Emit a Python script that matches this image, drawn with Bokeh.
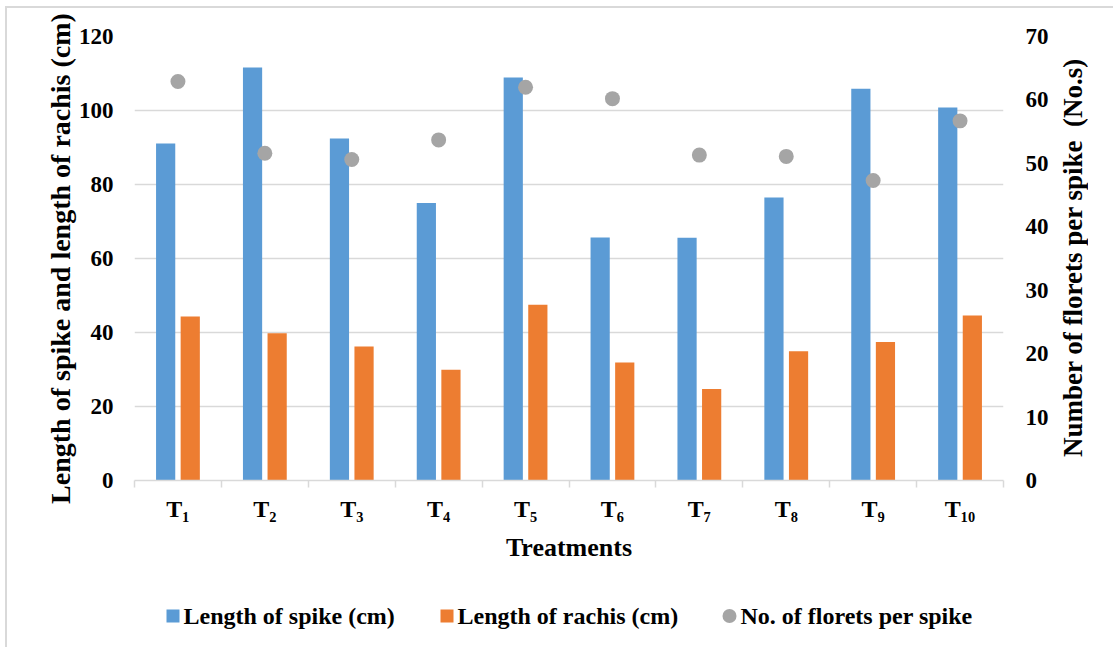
from bokeh.plotting import figure
from bokeh.models import Range1d, LinearAxis, FixedTicker, ColumnDataSource, Div
from bokeh.layouts import column, row
from bokeh.transform import dodge
from bokeh.embed import file_html
from bokeh.resources import INLINE
from bokeh.core.properties import value

# ---- data -------------------------------------------------------------
treatments = ["T\u2081", "T\u2082", "T\u2083", "T\u2084", "T\u2085",
              "T\u2086", "T\u2087", "T\u2088", "T\u2089", "T\u2081\u2080"]
spike_length = [91.1, 111.6, 92.4, 75.0, 108.9, 65.7, 65.6, 76.5, 105.9, 100.8]
rachis_length = [44.3, 39.8, 36.2, 29.9, 47.5, 31.9, 24.7, 34.9, 37.4, 44.6]
florets_per_spike = [62.9, 51.6, 50.6, 53.7, 62.0, 60.2, 51.3, 51.1, 47.3, 56.7]

left_ticks = [0, 20, 40, 60, 80, 100, 120]
right_ticks = [0, 10, 20, 30, 40, 50, 60, 70]

left_title = "Length of spike and length of rachis (cm)"
right_title = "Number of florets per spike  (No.s)"
x_title = "Treatments"
series_names = ["Length of spike (cm)", "Length of rachis (cm)", "No. of florets per spike"]
series_colors = ["#5b9bd5", "#ed7d31", "#a5a5a5"]

# ---- styling ----------------------------------------------------------
FONT = "'Liberation Serif', 'Times New Roman', serif"
GRID = "#d9d9d9"

n = len(treatments)
centers = [i + 0.5 for i in range(n)]
src = ColumnDataSource(dict(x=centers, spike=spike_length,
                            rachis=rachis_length, florets=florets_per_spike))

p = figure(width=1048, height=577,
           x_range=Range1d(0, n), y_range=Range1d(left_ticks[0], left_ticks[-1]),
           output_backend="svg", toolbar_location=None,
           min_border_left=127, min_border_right=52,
           min_border_top=28, min_border_bottom=105,
           outline_line_color=None,
           background_fill_color="white", border_fill_color="white")
p.extra_y_ranges = {"florets": Range1d(right_ticks[0], right_ticks[-1])}

# bars and dots
p.vbar(x=dodge("x", -0.1415, range=p.x_range), top="spike", width=0.221,
       fill_color=series_colors[0], line_color=None, source=src)
p.vbar(x=dodge("x", 0.1415, range=p.x_range), top="rachis", width=0.221,
       fill_color=series_colors[1], line_color=None, source=src)
p.scatter(x="x", y="florets", size=15, marker="circle",
          fill_color=series_colors[2], line_color=None,
          y_range_name="florets", source=src)

# grid
p.xgrid.visible = False
p.ygrid.grid_line_color = GRID
p.ygrid.grid_line_width = 1.5

# x axis: labels at category centres, tick marks between categories
xa = p.xaxis[0]
xa.ticker = FixedTicker(ticks=centers, minor_ticks=list(range(n + 1)))
xa.major_label_overrides = {c: t for c, t in zip(centers, treatments)}
xa.major_tick_out = 0
xa.major_tick_in = 0
xa.minor_tick_out = 7
xa.minor_tick_in = 0
xa.minor_tick_line_color = GRID
xa.minor_tick_line_width = 1.5
xa.axis_line_color = GRID
xa.axis_line_width = 1.5
xa.major_label_standoff = 8
xa.major_label_text_font = FONT
xa.major_label_text_font_style = "bold"
xa.major_label_text_font_size = "24px"
xa.major_label_text_color = "black"
xa.axis_label = x_title
xa.axis_label_standoff = 8
xa.axis_label_text_font = FONT
xa.axis_label_text_font_style = "bold"
xa.axis_label_text_font_size = "26px"
xa.axis_label_text_color = "black"


def style_y(ax, standoff_lab):
    ax.axis_line_color = None
    ax.major_tick_out = 0
    ax.major_tick_in = 0
    ax.minor_tick_out = 0
    ax.minor_tick_in = 0
    ax.major_tick_line_color = None
    ax.minor_tick_line_color = None
    ax.major_label_standoff = standoff_lab
    ax.major_label_text_font = FONT
    ax.major_label_text_font_style = "bold"
    ax.major_label_text_font_size = "23px"
    ax.major_label_text_color = "black"


ya = p.yaxis[0]
ya.ticker = FixedTicker(ticks=left_ticks)
style_y(ya, 21)
ya.axis_label = left_title
ya.axis_label_standoff = 0
ya.axis_label_text_font = FONT
ya.axis_label_text_font_style = "bold"
ya.axis_label_text_font_size = "28px"
ya.axis_label_text_color = "black"

ra = LinearAxis(y_range_name="florets", ticker=FixedTicker(ticks=right_ticks))
style_y(ra, 22)
p.add_layout(ra, "right")

# right-hand title, reading bottom-to-top like the left one
right_title_box = Div(
    text=('<div style="margin-top:28px;height:444px;width:36px;line-height:36px;'
          'writing-mode:vertical-rl;transform:rotate(180deg);text-align:center;'
          "font-family:'Liberation Serif','Times New Roman',serif;font-weight:bold;"
          'font-size:27px;color:#000;white-space:pre;">' + right_title + '</div>'),
    width=58, height=577, margin=0)

# ---- legend strip -----------------------------------------------------
leg = figure(width=1106, height=62,
             x_range=Range1d(7, 1113), y_range=Range1d(0, 62),
             output_backend="svg", toolbar_location=None,
             x_axis_type=None, y_axis_type=None, min_border=0,
             frame_align=False, outline_line_color=None,
             background_fill_color="white", border_fill_color="white")
leg.grid.visible = False
leg.scatter(x=[172.5, 446.5], y=[31.5, 31.5], marker="square", size=13,
            fill_color=series_colors[:2], line_color=None)
leg.scatter(x=[729], y=[31.5], marker="circle", size=14,
            fill_color=series_colors[2], line_color=None)
leg.text(x=[183, 457, 740], y=[31.5, 31.5, 31.5], text=series_names,
         text_font=value(FONT), text_font_style="bold", text_font_size="24px",
         text_color="black", text_baseline="middle", text_align="left")

layout = column(row(p, right_title_box), leg, margin=(6, 0, 0, 5),
                styles={"border-left": "2px solid #d9d9d9",
                        "border-top": "2px solid #d9d9d9"})

open("out.html", "w").write(file_html(layout, INLINE))
